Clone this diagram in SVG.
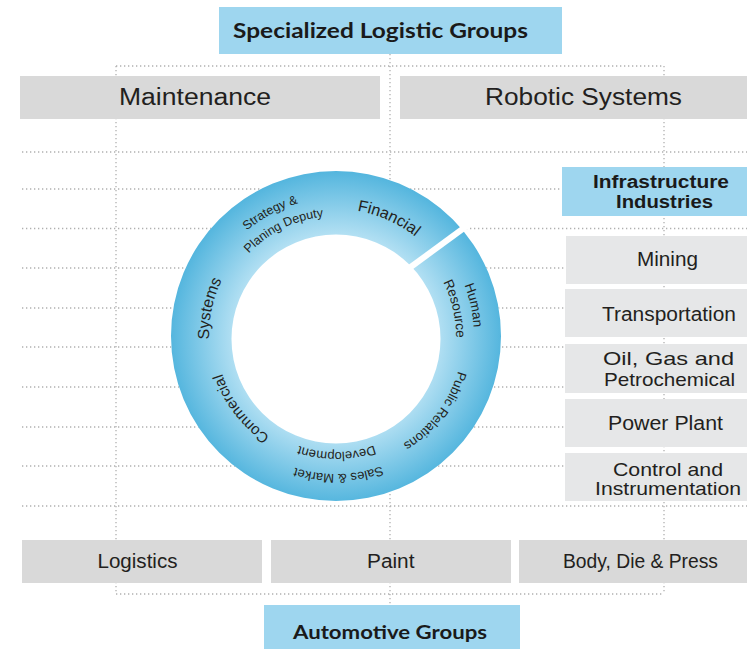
<svg xmlns="http://www.w3.org/2000/svg" width="747" height="649" viewBox="0 0 747 649">
<defs>
<style>
.dot{stroke:#b0b0b0;stroke-width:1.3;stroke-dasharray:1.3 2.7;fill:none}
.gbox{fill:#d9d9d9}
.lbox{fill:#e6e7e8}
.bbox{fill:#9ed6ef}
.t{font-family:"Liberation Sans",Arial,sans-serif;fill:#231f20}
.b{font-family:Lato,"Liberation Sans",sans-serif;font-weight:bold;fill:#1a1a1a}
.ib{font-family:"Liberation Sans",Arial,sans-serif;font-weight:bold;fill:#1a1a1a}
.rl{font-family:"Liberation Sans",Arial,sans-serif;fill:#231f20;text-anchor:middle}
</style>
<radialGradient id="rg" gradientUnits="userSpaceOnUse" cx="336" cy="337" r="165">
<stop offset="0.62" stop-color="#b3e0f3"/>
<stop offset="1" stop-color="#55b6de"/>
</radialGradient>
<path id="c116" d="M336,220 A116,116 0 1,1 336,452 A116,116 0 1,1 336,220"/>
<path id="c120" d="M336,216 A120,120 0 1,1 336,456 A120,120 0 1,1 336,216"/>
<path id="c127" d="M336,209 A127,127 0 1,1 336,463 A127,127 0 1,1 336,209"/>
<path id="c138" d="M336,198 A138,138 0 1,1 336,474 A138,138 0 1,1 336,198"/>
</defs>
<rect width="747" height="649" fill="#ffffff"/>
<g id="connectors">
<path class="dot" d="M116,66 H664 M116,594 H664 M116,66 V594 M664,66 V594 M390,54 V605"/>
<path class="dot" d="M22,152 H747 M22,189 H747 M22,228.5 H747 M22,268 H747 M22,308 H747 M22,347 H747 M22,387 H747 M22,427 H747 M22,466 H747 M22,506 H747"/>
</g>
<g id="ring">
<circle cx="336" cy="336" r="165" fill="#ffffff"/>
<path fill="url(#rg)" fill-rule="evenodd" d="M171,336 A165,165 0 1,0 501,336 A165,165 0 1,0 171,336 Z M231.5,339 A104.5,104.5 0 1,0 440.5,339 A104.5,104.5 0 1,0 231.5,339 Z"/>
<line x1="408" y1="269" x2="468" y2="225" stroke="#ffffff" stroke-width="6"/>
<text class="rl" font-size="16"><textPath href="#c127" startOffset="6.7%">Financial</textPath></text>
<text class="rl" font-size="12.5"><textPath href="#c138" startOffset="92.2%">Strategy &amp;</textPath></text>
<text class="rl" font-size="12.5"><textPath href="#c120" startOffset="92.7%">Planing Deputy</textPath></text>
<text class="rl" font-size="16"><textPath href="#c127" startOffset="78.4%">Systems</textPath></text>
<text class="rl" font-size="13.5"><textPath href="#c138" startOffset="21.5%">Human</textPath></text>
<text class="rl" font-size="13.5"><textPath href="#c120" startOffset="21.4%">Resource</textPath></text>
<text class="rl" font-size="13"><textPath href="#c127" startOffset="35.3%">Public Relations</textPath></text>
<text class="rl" font-size="13"><textPath href="#c138" startOffset="49.7%">Sales &amp; Market</textPath></text>
<text class="rl" font-size="13"><textPath href="#c116" startOffset="49.9%">Development</textPath></text>
<text class="rl" font-size="15"><textPath href="#c120" startOffset="64.6%">Commercial</textPath></text>
</g>
<g id="title">
<rect class="bbox" x="219" y="7" width="343" height="47"/>
<text class="b" x="233" y="38" font-size="20" textLength="295" lengthAdjust="spacingAndGlyphs">Specialized Logistic Groups</text>
</g>
<g id="maintenance">
<rect class="gbox" x="20" y="76" width="360" height="43"/>
<text class="t" x="119" y="105" font-size="23.5" textLength="152" lengthAdjust="spacingAndGlyphs">Maintenance</text>
</g>
<g id="robotic">
<rect class="gbox" x="400" y="76" width="347" height="43"/>
<text class="t" x="485" y="105" font-size="23.5" textLength="197" lengthAdjust="spacingAndGlyphs">Robotic Systems</text>
</g>
<g id="infrastructure">
<rect class="bbox" x="562" y="167" width="185" height="49"/>
<text class="ib" x="593" y="188" font-size="17.5" textLength="136" lengthAdjust="spacingAndGlyphs">Infrastructure</text>
<text class="ib" x="616" y="207.5" font-size="17.5" textLength="97" lengthAdjust="spacingAndGlyphs">Industries</text>
</g>
<g id="mining">
<rect class="lbox" x="566" y="236" width="181" height="48"/>
<text class="t" x="637" y="266" font-size="20" textLength="61" lengthAdjust="spacingAndGlyphs">Mining</text>
</g>
<g id="transportation">
<rect class="lbox" x="565" y="289" width="182" height="48"/>
<text class="t" x="602" y="320.5" font-size="20" textLength="134" lengthAdjust="spacingAndGlyphs">Transportation</text>
</g>
<g id="oilgas">
<rect class="lbox" x="565" y="344" width="182" height="49"/>
<text class="t" x="603" y="365" font-size="19" textLength="131" lengthAdjust="spacingAndGlyphs">Oil, Gas and</text>
<text class="t" x="604" y="385.5" font-size="19" textLength="131" lengthAdjust="spacingAndGlyphs">Petrochemical</text>
</g>
<g id="powerplant">
<rect class="lbox" x="565" y="399" width="182" height="48"/>
<text class="t" x="608" y="429.5" font-size="20" textLength="115" lengthAdjust="spacingAndGlyphs">Power Plant</text>
</g>
<g id="control">
<rect class="lbox" x="565" y="453" width="182" height="48"/>
<text class="t" x="613" y="476" font-size="18.5" textLength="110" lengthAdjust="spacingAndGlyphs">Control and</text>
<text class="t" x="595" y="495" font-size="18.5" textLength="146" lengthAdjust="spacingAndGlyphs">Instrumentation</text>
</g>
<g id="logistics">
<rect class="gbox" x="22" y="540" width="240" height="43"/>
<text class="t" x="97.5" y="568" font-size="19.5" textLength="80" lengthAdjust="spacingAndGlyphs">Logistics</text>
</g>
<g id="paint">
<rect class="gbox" x="271" y="540" width="240" height="43"/>
<text class="t" x="367" y="567.5" font-size="19.5" textLength="47.5" lengthAdjust="spacingAndGlyphs">Paint</text>
</g>
<g id="body">
<rect class="gbox" x="519" y="540" width="228" height="43"/>
<text class="t" x="563" y="568" font-size="19.5" textLength="155" lengthAdjust="spacingAndGlyphs">Body, Die &amp; Press</text>
</g>
<g id="automotive">
<rect class="bbox" x="264" y="605" width="256" height="44"/>
<text class="b" x="293" y="638.5" font-size="19.5" textLength="194" lengthAdjust="spacingAndGlyphs">Automotive Groups</text>
</g>
</svg>
